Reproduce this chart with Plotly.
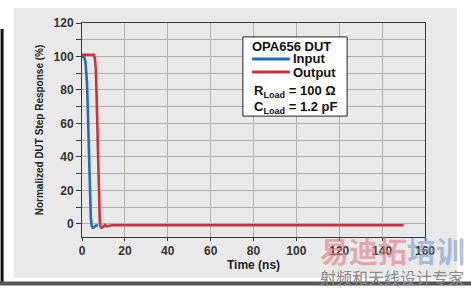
import plotly.graph_objects as go

# ---- data ----
input_t = [0, 1.0, 1.6, 2.0, 2.3, 2.6, 2.9, 3.2, 3.5, 3.8, 4.1, 4.5, 5.0, 5.6, 6.3, 7.5]
input_v = [100, 99.5, 97, 92, 85, 74, 58, 40, 24, 12, 4, -1, -2.2, -2, -1, -0.8]

output_t = [0, 3, 5.5, 6.0, 6.4, 6.7, 7.0, 7.3, 7.6, 7.9, 8.3, 8.8, 9.4, 10.0,
            10.7, 11.5, 12.5, 14, 30, 60, 90, 120, 150]
output_v = [101, 101, 101, 99, 93, 82, 64, 42, 22, 9, 1, -2, -2.3, -1.5,
            -0.6, -1.4, -1.0, -0.8, -0.8, -0.8, -0.8, -0.8, -0.8]

x_tickvals = [0, 20, 40, 60, 80, 100, 120, 140, 160]
x_ticktext = ["0", "20", "40", "60", "80", "100", "120", "140", "160"]
y_tickvals = [0, 10, 20, 30, 40, 50, 60, 70, 80, 90, 100, 110, 120]
y_ticktext = ["0", "", "20", "", "40", "", "60", "", "80", "", "100", "", "120"]

series_names = ["Input", "Output"]
BLUE = "#1f6fb2"
RED = "#d22f3c"
FONT = "Liberation Sans, Arial, sans-serif"

fig = go.Figure()
fig.add_trace(go.Scatter(x=input_t, y=input_v, mode="lines", name=series_names[0],
                         line=dict(color=BLUE, width=2.6), showlegend=False))
fig.add_trace(go.Scatter(x=output_t, y=output_v, mode="lines", name=series_names[1],
                         line=dict(color=RED, width=2.6), showlegend=False))

axis_common = dict(showline=True, linecolor="#3a3a3a", linewidth=1, mirror=True,
                   gridcolor="#b0b0b0", gridwidth=1, zeroline=False, automargin=False,
                   ticks="outside", tickcolor="#3a3a3a",
                   tickfont=dict(family=FONT, size=12, color="#333333", weight="bold"))

fig.update_xaxes(range=[0, 160], tickmode="array", tickvals=x_tickvals, ticktext=x_ticktext,
                 ticklen=3,
                 title=dict(text="Time (ns)", standoff=0,
                            font=dict(family=FONT, size=12, color="#222222", weight="bold")),
                 **axis_common)
fig.update_yaxes(range=[-7.8, 120], tickmode="array", tickvals=y_tickvals, ticktext=y_ticktext,
                 ticklen=5,
                 title=dict(text="Normalized DUT Step Response (%)", standoff=8,
                            font=dict(family=FONT, size=10, color="#222222", weight="bold")),
                 **axis_common)

# legend box geometry (paper coords)
LX0, LX1, LY0, LY1 = 0.469, 0.773, 0.565, 0.935
KEY_X0, KEY_X1 = 0.496, 0.606
ROW_Y = [0.832, 0.771]
KEY_COLORS = [BLUE, RED]

shapes = [
    dict(type="rect", xref="paper", yref="paper", x0=-0.198, x1=1.093, y0=-0.192, y1=1.070,
         fillcolor="#e9e9e9", line=dict(width=0), layer="below"),
    dict(type="line", xref="paper", yref="paper", x0=-0.233, x1=-0.233, y0=0.972, y1=-0.224,
         line=dict(color="#111111", width=3), layer="below"),
    dict(type="line", xref="paper", yref="paper", x0=-0.24, x1=1.14, y0=-0.217, y1=-0.217,
         line=dict(color="#555555", width=4), layer="below"),
    dict(type="rect", xref="paper", yref="paper", x0=LX0, x1=LX1, y0=LY0, y1=LY1,
         fillcolor="white", line=dict(color="#222222", width=1), layer="above"),
]
for yy, col in zip(ROW_Y, KEY_COLORS):
    shapes.append(dict(type="line", xref="paper", yref="paper", x0=KEY_X0, x1=KEY_X1,
                       y0=yy, y1=yy, line=dict(color=col, width=3), layer="above"))

LEG_FONT = dict(family=FONT, size=13, color="#111111", weight="bold")
annotations = [
    dict(xref="paper", yref="paper", x=0.611, y=0.8925, xanchor="center", yanchor="middle",
         showarrow=False, text="OPA656 DUT", font=LEG_FONT),
    dict(xref="paper", yref="paper", x=0.609, y=ROW_Y[0], xanchor="left", yanchor="middle",
         showarrow=False, text=series_names[0], font=LEG_FONT),
    dict(xref="paper", yref="paper", x=0.609, y=ROW_Y[1], xanchor="left", yanchor="middle",
         showarrow=False, text=series_names[1], font=LEG_FONT),
    dict(xref="paper", yref="paper", x=0.621, y=0.680, xanchor="center", yanchor="middle",
         showarrow=False, text="R<sub>Load</sub> = 100 Ω", font=LEG_FONT),
    dict(xref="paper", yref="paper", x=0.624, y=0.607, xanchor="center", yanchor="middle",
         showarrow=False, text="C<sub>Load</sub> = 1.2 pF", font=LEG_FONT),
    # watermark (semi-transparent, lies over the last tick labels as in the reference)
    dict(xref="paper", yref="paper", x=0.904, y=-0.06, xanchor="center", yanchor="middle",
         showarrow=False, opacity=0.6,
         text="<span style='color:#e07a86'>易迪拓</span><span style='color:#7d9ccb'>培训</span>",
         font=dict(family="Noto Sans CJK SC", size=29, weight="bold")),
    dict(xref="paper", yref="paper", x=0.904, y=-0.187, xanchor="center", yanchor="middle",
         showarrow=False, text="射频和天线设计专家",
         font=dict(family="Noto Sans CJK SC", size=16, color="#8a8a8a")),
]

fig.update_layout(
    width=471, height=288,
    margin=dict(l=82, r=46, t=23, b=51),
    paper_bgcolor="white", plot_bgcolor="white",
    font=dict(family=FONT),
    shapes=shapes, annotations=annotations,
    showlegend=False,
)

fig.write_html("out.html")
